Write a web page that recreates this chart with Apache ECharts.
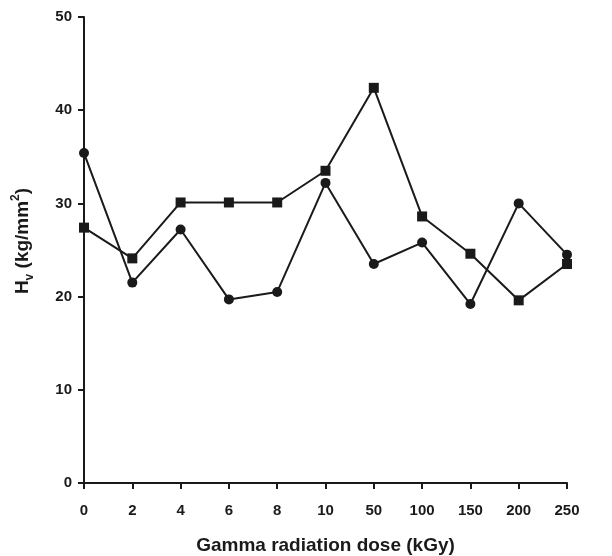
<!DOCTYPE html>
<html><head><meta charset="utf-8">
<script src="https://cdn.jsdelivr.net/npm/echarts@6/dist/echarts.min.js"></script>
<style>html,body{margin:0;padding:0;background:#fff}#c{width:612px;height:556px}</style>
</head><body><div id="c"></div>
<script>
const categories = ['0','2','4','6','8','10','50','100','150','200','250'];
const squareSeries = [27.4, 24.1, 30.1, 30.1, 30.1, 33.5, 42.4, 28.6, 24.6, 19.6, 23.5];
const circleSeries = [35.4, 21.5, 27.2, 19.7, 20.5, 32.2, 23.5, 25.8, 19.2, 30.0, 24.5];
const yTicks = { min: 0, max: 50, interval: 10 };

const font = 'Liberation Sans, Arial, sans-serif';
const ink = '#1a1a1a';
const chart = echarts.init(document.getElementById('c'));
chart.setOption({
  animation: false,
  backgroundColor: '#fff',
  grid: { left: 84, right: 45, top: 17, bottom: 73, containLabel: false, outerBoundsMode: 'none' },
  xAxis: {
    type: 'category', data: categories, boundaryGap: false,
    axisLine: { lineStyle: { color: ink, width: 2 } },
    axisTick: { show: true, inside: false, length: 6, alignWithLabel: true, lineStyle: { color: ink, width: 2 } },
    axisLabel: { color: ink, fontFamily: font, fontWeight: 'bold', fontSize: 15, margin: 20 },
    splitLine: { show: false },
    name: 'Gamma radiation dose (kGy)', nameLocation: 'middle', nameGap: 53,
    nameTextStyle: { color: ink, fontFamily: font, fontWeight: 'bold', fontSize: 19 }
  },
  yAxis: {
    type: 'value', min: yTicks.min, max: yTicks.max, interval: yTicks.interval,
    axisLine: { show: true, lineStyle: { color: ink, width: 2 } },
    axisTick: { show: true, inside: false, length: 6, lineStyle: { color: ink, width: 2 } },
    axisLabel: { color: ink, fontFamily: font, fontWeight: 'bold', fontSize: 15, margin: 12 },
    splitLine: { show: false },
    name: '{m|H}{s|v}{m| (kg/mm}{p|2}{m|)}', nameLocation: 'middle', nameGap: 48, nameRotate: 90,
    nameTextStyle: {
      color: ink, fontFamily: font, fontWeight: 'bold', fontSize: 19,
      padding: [0, 0, 0, 18],
      rich: {
        m: { fontFamily: font, fontWeight: 'bold', fontSize: 19, color: ink, lineHeight: 26, verticalAlign: 'middle' },
        s: { fontFamily: font, fontWeight: 'bold', fontSize: 12, color: ink, lineHeight: 26, verticalAlign: 'bottom' },
        p: { fontFamily: font, fontWeight: 'bold', fontSize: 12, color: ink, lineHeight: 26, verticalAlign: 'top' }
      }
    }
  },
  series: [
    { type: 'line', data: squareSeries, symbol: 'rect', symbolSize: 10,
      lineStyle: { color: ink, width: 2 }, itemStyle: { color: ink } },
    { type: 'line', data: circleSeries, symbol: 'circle', symbolSize: 10,
      lineStyle: { color: ink, width: 2 }, itemStyle: { color: ink } }
  ]
});
</script></body></html>
